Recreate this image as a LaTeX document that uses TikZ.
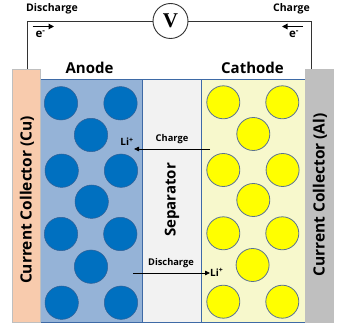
\documentclass[tikz,border=0pt]{standalone}
\usepackage{fontspec}
\setmainfont{Open Sans}
\newfontfamily\vfont{Liberation Serif}
\usetikzlibrary{arrows.meta}
\definecolor{cuC}{HTML}{F8CBAD}
\definecolor{alC}{HTML}{BFBFBF}
\definecolor{anC}{HTML}{95B3D7}
\definecolor{anDot}{HTML}{0070C0}
\definecolor{anDotLine}{HTML}{2F5F96}
\definecolor{caC}{HTML}{F7F8CC}
\definecolor{caDot}{HTML}{FFFF00}
\definecolor{caDotLine}{HTML}{5A7391}
\definecolor{sepC}{HTML}{F2F2F2}
\definecolor{edge}{HTML}{3E6AA6}
\definecolor{wireC}{HTML}{333333}
\tikzset{
  collector/.style={draw=black!25, line width=0.5pt, inner sep=0pt, minimum width=27.5pt, minimum height=253pt},
  layer/.style={draw=edge, line width=0.9pt, inner sep=0pt, minimum height=243pt},
  adot/.style={circle, draw=anDotLine, line width=0.5pt, fill=anDot, minimum size=33.4pt, inner sep=0pt},
  cdot/.style={circle, draw=caDotLine, line width=0.8pt, fill=caDot, minimum size=33pt, inner sep=0pt},
  bigtxt/.style={font=\fontsize{15}{18}\selectfont\bfseries, inner sep=0pt},
  colltxt/.style={font=\fontsize{15.5}{18}\selectfont\bfseries, inner sep=0pt, rotate=90},
  toptxt/.style={font=\fontsize{10.5}{12}\selectfont\bfseries, inner sep=0pt},
  etxt/.style={font=\fontsize{11.5}{12}\selectfont\bfseries, inner sep=0pt},
  arrtxt/.style={font=\fontsize{9.3}{11}\selectfont\bfseries, inner sep=0pt},
  litxt/.style={font=\fontsize{10}{11}\selectfont\bfseries, inner sep=0pt},
  wire/.style={draw=wireC, line width=0.9pt},
  ionarrow/.style={draw=black, line width=0.8pt, -{Triangle[length=5pt,width=4.5pt]}},
  earrow/.style={draw=black, line width=1.3pt, -{Triangle[length=5.5pt,width=5.5pt]}}
}
\begin{document}
\begin{tikzpicture}[x=1pt,y=-1pt]
\useasboundingbox (0,0) rectangle (349,329);
\fill[white] (0,0) rectangle (349,329);
% layers
\node[layer, fill=anC, minimum width=102pt] (anode) at (91,200.5) {};
\node[layer, fill=sepC, minimum width=59pt] (sep) at (171.5,200.5) {};
\node[layer, fill=caC, minimum width=104pt] (cath) at (253,200.5) {};
\draw[draw=edge, line width=1.8pt] (anode.south west) -- (cath.south east);
% collectors
\node[collector, fill=cuC] (cu) at (26.25,195.5) {};
\node[collector, fill=alC] (al) at (319,195.5) {};
\node[colltxt] (cutxt) at (27,200) {Current Collector (Cu)};
\node[colltxt] (altxt) at (320,195) {Current Collector (Al)};
\node[bigtxt, rotate=90] (septxt) at (172,200) {Separator};
\node[bigtxt] (antxt) at (89.5,68) {Anode};
\node[bigtxt] (catxt) at (252.5,68) {Cathode};
% anode particles
\foreach \n/\px/\py in {a1/61/103.3, a2/120.5/103.3, a3/91/135, a4/61.7/170.7, a5/121/170.7, a6/91.7/201.7, a7/61/234, a8/120.3/234, a9/91/266.7, a10/61.7/302.7, a11/121/302.7}
  \node[adot] (\n) at (\px,\py) {};
% cathode particles
\foreach \n/\px/\py in {c1/223.3/102.3, c2/282.3/102.3, c3/253.3/134, c4/223.3/170, c5/282.6/170, c6/253.3/200, c7/223.3/233.3, c8/282.3/233.3, c9/252.6/265, c10/223.3/301.7, c11/282.3/301.7}
  \node[cdot] (\n) at (\px,\py) {};
% voltmeter and wire
\node[circle, draw=wireC, line width=0.9pt, fill=white, minimum size=35pt, inner sep=0pt, font=\vfont\fontsize{21}{22}\selectfont\bfseries] (vm) at (170.5,21) {V};
\coordinate (lw) at (27,69);
\coordinate (rw) at (311,69);
\draw[wire] (lw) |- (vm.west);
\draw[wire] (vm.east) -| (rw);
\node[toptxt] (dtop) at (52,8.5) {Discharge};
\node[toptxt] (ctop) at (291.5,8.5) {Charge};
\node[etxt] (el) at (40.5,34.5) {e\textsuperscript{-}};
\node[etxt] (er) at (294,34.5) {e\textsuperscript{-}};
\coordinate (eLa) at (32.5,26.5);
\coordinate (eLb) at (54,26.5);
\coordinate (eRa) at (303,26.5);
\coordinate (eRb) at (282,26.5);
\path[earrow] (eLa) -- (eLb);
\path[earrow] (eRa) -- (eRb);
% ion arrows
\node[arrtxt] (chg) at (172,139) {Charge};
\node[litxt] (lia) at (127,142) {Li\textsuperscript{+}};
\coordinate (cs) at (210,149);
\coordinate (ce) at (134,149);
\draw[ionarrow] (cs) -- (ce);
\node[arrtxt] (dis) at (171,263) {Discharge};
\node[litxt, anchor=west] (lib) at (210,272.5) {Li\textsuperscript{+}};
\coordinate (ds) at (133,273);
\draw[ionarrow] (ds) -- (lib.west |- ds);
\end{tikzpicture}
\end{document}
